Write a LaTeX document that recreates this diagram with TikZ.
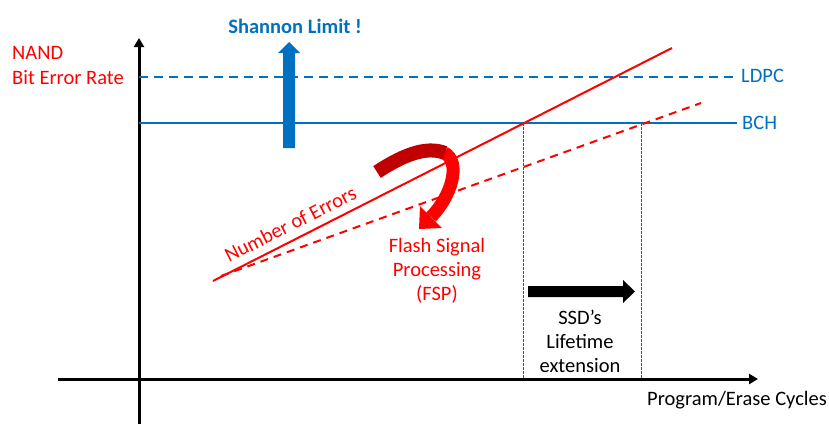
\documentclass[tikz,border=0pt]{standalone}
\usepackage{fontspec}
\setmainfont{Carlito}
\usetikzlibrary{arrows.meta}
\definecolor{ublue}{HTML}{0070C0}
\definecolor{dred}{HTML}{C00000}
\definecolor{bred}{HTML}{FF0000}
\begin{document}
\begin{tikzpicture}[x=1pt,y=-1pt,
  txt/.style={font=\fontsize{20.5}{24}\selectfont, inner sep=0pt, align=center},
  axisline/.style={line width=3pt, -{Triangle[length=9pt,width=10pt]}},
  limitline/.style={ublue, line width=2pt},
  errline/.style={bred, line width=2pt},
  guide/.style={gray!60!black, line width=1pt, dash pattern=on 2.5pt off 1.5pt}]
\useasboundingbox (0,0) rectangle (829,424);
% coordinates
\coordinate (ybot) at (139,424);
\coordinate (ytop) at (139,38);
\coordinate (xleft) at (58,379);
\coordinate (xright) at (758,379);
\coordinate (ldpcL) at (139,77);
\coordinate (ldpcR) at (737,77);
\coordinate (bchL) at (139,123);
\coordinate (bchR) at (737,123);
\coordinate (e1s) at (213,281);
\coordinate (e1e) at (672,48);
\coordinate (e2s) at (221,276);
\coordinate (e2e) at (701,103);
\coordinate (i1) at (523,123);
\coordinate (i2) at (641,123);
\coordinate (b1) at (523,379);
\coordinate (b2) at (641,379);
% axes
\draw[axisline] (ybot) -- (ytop);
\draw[axisline] (xleft) -- (xright);
% ECC limits
\draw[limitline, dash pattern=on 9pt off 6pt] (ldpcL) -- (ldpcR);
\draw[limitline] (bchL) -- (bchR);
% error lines
\draw[errline] (e1s) -- (e1e);
\draw[errline, dash pattern=on 8pt off 6pt] (e2s) -- (e2e);
% guides
\draw[guide] (i1) -- (b1);
\draw[guide] (i2) -- (b2);
% Shannon arrow
\fill[ublue] (283,148) -- (283,53) -- (278,53) -- (289,42) -- (300,53) -- (295,53) -- (295,148) -- cycle;
% lifetime arrow
\fill[black] (528,286) -- (623,286) -- (623,280) -- (635,291.5) -- (623,303) -- (623,297) -- (528,297) -- cycle;
% FSP curved arrow
\draw[bred, line width=13pt] (444,152.6) .. controls (462,162) and (451,197) .. (431,217);
\fill[bred] (420,206) -- (442,228) -- (419,229) -- cycle;
\draw[dred, line width=14pt] (377,172) .. controls (400,157) and (425,145) .. (445,153);
% texts
\node[txt, anchor=west, text=bred] (nand) at (12,53) {NAND};
\node[txt, anchor=west, text=bred] (ber) at (12,78) {Bit Error Rate};
\node[txt, anchor=west, text=ublue] (ldpc) at (741,76) {LDPC};
\node[txt, anchor=west, text=ublue] (bch) at (742,123) {BCH};
\node[txt, text=ublue, font=\fontsize{20.5}{24}\selectfont\bfseries] (shannon) at (295,26) {Shannon Limit !};
\node[txt, text=bred] (fsp) at (437,271) {Flash Signal\\Processing\\(FSP)};
\node[txt] (ssd) at (580,341) {SSD’s\\Lifetime\\extension};
\node[txt] (pe) at (737,400) {Program/Erase Cycles};
\node[txt, text=bred, rotate=26.9, anchor=base] (noe) at (293.5,230.3) {Number of Errors};
\end{tikzpicture}
\end{document}
